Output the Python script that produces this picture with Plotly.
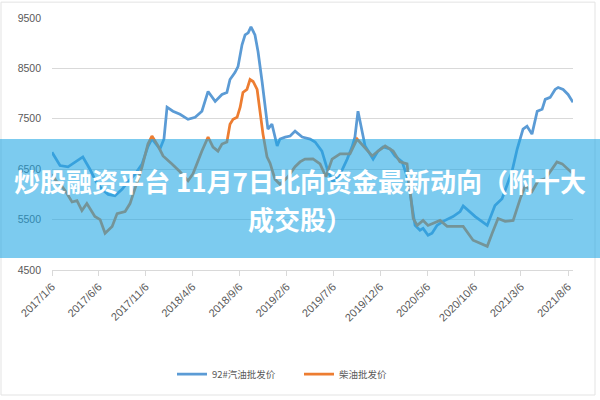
import plotly.graph_objects as go

# ---- data ----
gas_dates = ["2017-01-06", "2017-01-19", "2017-02-01", "2017-02-27", "2017-03-25", "2017-04-16",
             "2017-05-09", "2017-05-29", "2017-06-17", "2017-07-07", "2017-07-29", "2017-08-21",
             "2017-09-09", "2017-10-02", "2017-10-25", "2017-11-13", "2017-11-26", "2017-12-09",
             "2017-12-22", "2018-01-04", "2018-01-14", "2018-02-02", "2018-02-25", "2018-03-23",
             "2018-04-15", "2018-05-07", "2018-05-27", "2018-06-19", "2018-07-11", "2018-07-27",
             "2018-08-06", "2018-08-22", "2018-09-01", "2018-09-14", "2018-09-24", "2018-10-04",
             "2018-10-13", "2018-10-26", "2018-11-05", "2018-11-18", "2018-11-28", "2018-12-07",
             "2018-12-20", "2019-01-06", "2019-01-15", "2019-02-01", "2019-02-17", "2019-03-05",
             "2019-03-28", "2019-04-23", "2019-05-09", "2019-05-31", "2019-06-20", "2019-07-06",
             "2019-07-29", "2019-08-21", "2019-09-06", "2019-09-15", "2019-09-25", "2019-10-08",
             "2019-10-18", "2019-11-03", "2019-11-13", "2019-11-29", "2019-12-15", "2020-01-07",
             "2020-01-23", "2020-02-15", "2020-03-05", "2020-03-18", "2020-03-28", "2020-04-13",
             "2020-04-23", "2020-05-09", "2020-05-22", "2020-06-07", "2020-06-27", "2020-07-29",
             "2020-08-21", "2020-08-31", "2020-10-09", "2020-11-17", "2020-12-12", "2021-01-04",
             "2021-01-20", "2021-02-05", "2021-02-22", "2021-03-13", "2021-03-26", "2021-04-11",
             "2021-04-28", "2021-05-14", "2021-05-24", "2021-06-09", "2021-06-25", "2021-07-05",
             "2021-07-21", "2021-08-06", "2021-08-22"]
gas_prices = [6836, 6700, 6572, 6547, 6650, 6743,
              6500, 6250, 6100, 6000, 5975, 6100,
              6250, 6400, 6605, 6950, 7100, 7000,
              6900, 7100, 7730, 7650, 7590, 7490,
              7530, 7650, 8043, 7846, 7983, 8023,
              8280, 8417, 8535, 8968, 9165, 9205,
              9323, 9165, 8830, 8240, 7728, 7295,
              7393, 6960, 7098, 7137, 7157, 7255,
              7137, 7098, 7040, 6860, 6450, 6250,
              6400, 6700, 6950, 7137, 7650, 7295,
              6960, 6800, 6700, 6860, 6940, 6900,
              6762, 6645, 6310, 5780, 5385, 5290,
              5325, 5190, 5230, 5385, 5465, 5560,
              5660, 5770, 5560, 5385, 5780, 5916,
              6175, 6448, 6900, 7295, 7354, 7196,
              7650, 7689, 7885, 7925, 8082, 8122,
              8082, 7984, 7826]

diesel_dates = ["2017-01-06", "2017-01-19", "2017-02-01", "2017-02-20", "2017-03-12", "2017-03-28",
                "2017-04-13", "2017-04-29", "2017-05-25", "2017-06-11", "2017-06-27", "2017-07-20",
                "2017-08-05", "2017-08-31", "2017-09-16", "2017-09-26", "2017-10-25", "2017-11-13",
                "2017-11-26", "2017-12-16", "2018-01-01", "2018-01-30", "2018-02-25", "2018-03-23",
                "2018-04-08", "2018-05-07", "2018-05-27", "2018-06-12", "2018-06-28", "2018-07-11",
                "2018-07-27", "2018-08-06", "2018-08-16", "2018-08-29", "2018-09-08", "2018-09-17",
                "2018-09-30", "2018-10-10", "2018-10-20", "2018-11-02", "2018-11-11", "2018-11-21",
                "2018-12-04", "2018-12-14", "2018-12-30", "2019-01-15", "2019-02-10", "2019-03-05",
                "2019-03-21", "2019-04-06", "2019-05-02", "2019-05-25", "2019-06-13", "2019-07-03",
                "2019-07-29", "2019-08-30", "2019-09-22", "2019-10-11", "2019-11-10", "2019-11-29",
                "2019-12-22", "2020-01-17", "2020-02-08", "2020-03-02", "2020-03-12", "2020-03-22",
                "2020-04-04", "2020-04-23", "2020-05-09", "2020-06-01", "2020-06-17", "2020-07-10",
                "2020-08-31", "2020-10-02", "2020-10-25", "2020-11-17", "2020-12-03", "2020-12-22",
                "2021-01-14", "2021-02-09", "2021-03-04", "2021-03-20", "2021-04-11", "2021-05-01",
                "2021-05-24", "2021-06-15", "2021-07-01", "2021-07-18", "2021-08-06", "2021-08-22"]
diesel_prices = [6400, 6270, 6212, 6050, 5850, 5877,
                 5680, 5818, 5562, 5500, 5230, 5365,
                 5620, 5660, 5818, 6015, 6547, 7000,
                 7157, 6960, 6763, 6605, 6450, 6270,
                 6410, 6860, 7137, 6940, 6860, 7000,
                 7040, 7393, 7490, 7530, 7730, 8023,
                 8082, 8280, 8240, 8082, 7650, 7196,
                 6745, 6620, 6300, 6200, 6350, 6550,
                 6645, 6700, 6705, 6606, 6350, 6700,
                 6803, 6803, 7098, 6960, 6763, 6860,
                 6960, 6860, 6645, 6605, 6113, 5523,
                 5385, 5483, 5385, 5450, 5483, 5365,
                 5365, 5090, 5030, 4970, 5230, 5520,
                 5465, 5483, 5916, 6172, 6055, 6270,
                 6310, 6507, 6645, 6606, 6507, 6409]

tick_dates = ["2017-01-06", "2017-06-06", "2017-11-06", "2018-04-06", "2018-09-06", "2019-02-06",
              "2019-07-06", "2019-12-06", "2020-05-06", "2020-10-06", "2021-03-06", "2021-08-06"]
tick_labels = ["2017/1/6", "2017/6/6", "2017/11/6", "2018/4/6", "2018/9/6", "2019/2/6",
               "2019/7/6", "2019/12/6", "2020/5/6", "2020/10/6", "2021/3/6", "2021/8/6"]

series_names = ["92#汽油批发价", "柴油批发价"]
title_line1 = "炒股融资平台 11月7日北向资金最新动向（附十大"
title_line2 = "成交股）"

# ---- layout geometry (pixels) ----
W, H = 600, 400
ML, MR, MT, MB = 52, 27, 18, 128
PW, PH = W - ML - MR, H - MT - MB


def px_x(p):
    return (p - ML) / PW


def px_y(p):
    return (H - MB - p) / PH


fig = go.Figure()
fig.add_trace(go.Scatter(x=gas_dates, y=gas_prices, mode="lines", name=series_names[0],
                         line=dict(color="#5B9BD5", width=2.75)))
fig.add_trace(go.Scatter(x=diesel_dates, y=diesel_prices, mode="lines", name=series_names[1],
                         line=dict(color="#ED7D31", width=2.75)))

fig.update_layout(
    width=W, height=H,
    margin=dict(l=ML, r=MR, t=MT, b=MB),
    paper_bgcolor="white", plot_bgcolor="white",
    font=dict(family="Liberation Sans, Noto Sans CJK SC", color="#595959", size=10),
    showlegend=True,
    legend=dict(orientation="h", x=px_x(172), xanchor="left", y=px_y(377), yanchor="middle",
                font=dict(size=9.5, color="#595959", family="Noto Sans CJK SC"),
                itemwidth=30, entrywidth=82, entrywidthmode="pixels"),
    xaxis=dict(type="date", range=["2017-01-06", "2021-08-22"],
               tickvals=tick_dates, ticktext=tick_labels, tickangle=-45,
               showgrid=False, showline=True, linecolor="#d9d9d9", linewidth=1,
               ticks="outside", ticklen=5, tickcolor="#d9d9d9",
               tickfont=dict(size=11, color="#595959"), zeroline=False),
    yaxis=dict(range=[4500, 9500], tick0=4500, dtick=1000,
               showgrid=True, gridcolor="#d9d9d9", gridwidth=1, zeroline=False,
               showline=False, ticks="", ticklabelstandoff=10,
               tickfont=dict(size=10.5, color="#595959")),
)

# outer frame
fig.add_shape(type="rect", xref="paper", yref="paper",
              x0=px_x(1), x1=px_x(595), y0=px_y(398), y1=px_y(2),
              line=dict(color="#e3e3e3", width=1), fillcolor="rgba(0,0,0,0)", layer="below")

# translucent banner
fig.add_shape(type="rect", xref="paper", yref="paper",
              x0=px_x(0), x1=px_x(600), y0=px_y(260), y1=px_y(140),
              line=dict(width=0), fillcolor="rgba(30,165,228,0.58)", layer="above")

fig.add_annotation(xref="paper", yref="paper", x=px_x(300), y=px_y(182),
                   text=title_line1, showarrow=False, xanchor="center", yanchor="middle",
                   font=dict(family="Noto Sans CJK SC", size=26, color="white", weight="bold"))
fig.add_annotation(xref="paper", yref="paper", x=px_x(300), y=px_y(220),
                   text=title_line2, showarrow=False, xanchor="center", yanchor="middle",
                   font=dict(family="Noto Sans CJK SC", size=26, color="white", weight="bold"))

fig.write_html("out.html")
